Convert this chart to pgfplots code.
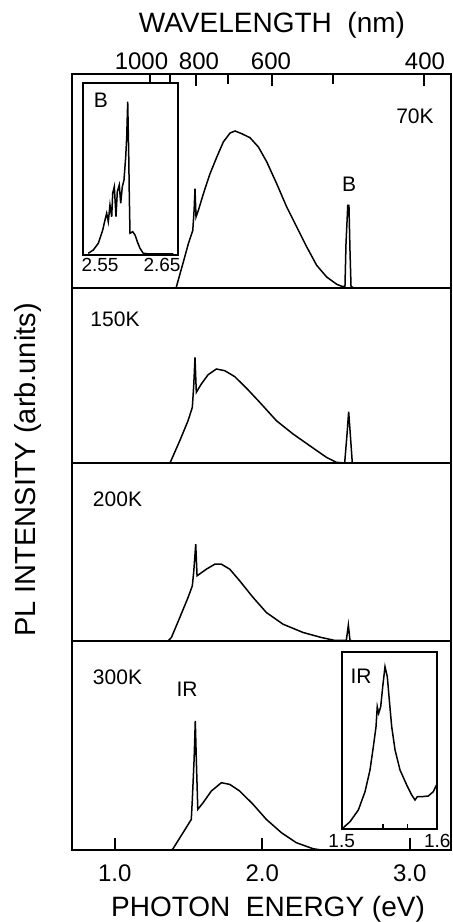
\documentclass[border=0pt]{standalone}
\usepackage{pgfplots}
\pgfplotsset{compat=1.18}
\usepackage{fontspec}
\setmainfont{Liberation Sans}
\newcommand{\tf}{\fontsize{14}{16}\selectfont}
\newcommand{\lf}{\fontsize{10.5}{12}\selectfont}
\newcommand{\kf}{\fontsize{12}{14}\selectfont}
\newcommand{\smf}{\fontsize{9.5}{11}\selectfont}

\tikzset{tk/.style={line width=1pt, black}}
\pgfplotsset{
 panel/.style={
   scale only axis, width=189.5pt, xmin=0.71, xmax=3.28, ymin=0,
   anchor=south west, axis line style={line width=1pt},
   ytick=\empty, xtick=\empty, clip=true,
 },
 inset/.style={
   scale only axis, ymin=0, anchor=south west,
   axis line style={line width=1pt}, ytick=\empty,
   xtick pos=left, xticklabel pos=left,
   xticklabel style={font=\smf, anchor=base},
   axis background/.style={fill=white},
 },
 crv/.style={line width=0.75pt, black, no marks},
}

\begin{document}
\begin{tikzpicture}
\useasboundingbox (0,0) rectangle (226pt,461pt);

% ---------- 300K ----------
\begin{axis}[panel, at={(36pt,36pt)}, height=104.5pt, ymax=209,
  xtick={1,2,3}, xticklabels={1.0,2.0,3.0},
  xtick pos=left, xticklabel pos=left,
  tick style={line width=1pt, black}, major tick length=6pt,
  xticklabel style={font=\kf, anchor=base, yshift=-16pt}]
\addplot[crv] coordinates {(1.385,0) (1.395,1.3) (1.463,17.3) (1.519,30.6) (1.526,50.6) (1.538,90.6) (1.546,129) (1.553,90.6) (1.563,40.6) (1.599,47.3) (1.655,59) (1.723,67.3) (1.780,65.6) (1.847,59) (1.938,45.6) (2.028,30.6) (2.130,17.3) (2.231,7.3) (2.344,1.3) (2.40,0)};
\draw[tk] (axis cs:1,0) -- ++(0pt,6pt);
\draw[tk] (axis cs:2,0) -- ++(0pt,6pt);
\draw[tk] (axis cs:3,0) -- ++(0pt,6pt);
\end{axis}

% ---------- 200K ----------
\begin{axis}[panel, at={(36pt,140.5pt)}, height=88.75pt, ymax=177.5]
\addplot[crv] coordinates {(1.361,0) (1.384,3.5) (1.441,23.5) (1.497,43.5) (1.526,55.2) (1.536,70.2) (1.549,96.8) (1.558,65.2) (1.621,71.8) (1.678,76.8) (1.723,76.8) (1.780,71.8) (1.847,60.2) (1.938,43.5) (2.028,28.5) (2.141,16.8) (2.277,8.5) (2.401,3.5) (2.494,0.5) (2.57,0.5) (2.584,16) (2.595,0.5) (2.62,0)};
\end{axis}

% ---------- 150K ----------
\begin{axis}[panel, at={(36pt,229.25pt)}, height=87.75pt, ymax=175.5]
\addplot[crv] coordinates {(1.373,0) (1.441,22.8) (1.497,42.8) (1.526,56.2) (1.536,79.5) (1.544,106.2) (1.553,71.2) (1.587,79.5) (1.633,88.8) (1.689,94.5) (1.746,92.8) (1.814,86.8) (1.892,75.5) (1.983,61.2) (2.096,42.8) (2.209,29.5) (2.322,17.8) (2.435,6.2) (2.502,1.2) (2.559,0.5) (2.575,29.5) (2.586,51.8) (2.597,29.5) (2.611,0)};
\end{axis}

% ---------- 70K ----------
\begin{axis}[panel, at={(36pt,317pt)}, height=107pt, ymax=214]
\addplot[crv] coordinates {(1.4156,0) (1.465,26) (1.499,44.3) (1.529,57.7) (1.538,77.7) (1.544,99.3) (1.551,71) (1.567,77.7) (1.601,94.3) (1.646,114.3) (1.692,131) (1.736,146) (1.782,155) (1.816,157) (1.861,154.3) (1.917,150.3) (1.974,141) (2.031,126) (2.098,104.3) (2.166,81) (2.234,61) (2.302,41) (2.369,22.7) (2.437,11) (2.505,3.7) (2.539,1.7) (2.561,1.7) (2.568,44.3) (2.580,82.7) (2.588,82.7) (2.595,37.7) (2.602,1.7) (2.62,0)};
% wavelength ticks: 1000,900,800,700,600,500,400 nm
\draw[tk] (axis cs:1.2398,214) -- ++(0pt,-6pt);
\draw[tk] (axis cs:1.3776,214) -- ++(0pt,-5pt);
\draw[tk] (axis cs:1.5498,214) -- ++(0pt,-6pt);
\draw[tk] (axis cs:1.7712,214) -- ++(0pt,-5pt);
\draw[tk] (axis cs:2.0664,214) -- ++(0pt,-6pt);
\draw[tk] (axis cs:2.4797,214) -- ++(0pt,-5pt);
\draw[tk] (axis cs:3.0996,214) -- ++(0pt,-6pt);
\end{axis}

% ---------- inset B ----------
\begin{axis}[inset, at={(41.5pt,333.5pt)}, width=47.5pt, height=86pt,
  xmin=2.5226, xmax=2.6758, ymax=172,
  xtick={2.55,2.65}, xticklabels={2.55,2.65},
  major tick length=0pt, xticklabel style={yshift=-8.5pt}]
\addplot[crv] coordinates {(2.5311,1.7) (2.5392,5) (2.5473,11.7) (2.5544,25) (2.5581,35) (2.5608,41.7) (2.5634,33.3) (2.5661,50) (2.5689,38.3) (2.5705,61.7) (2.5731,68.3) (2.5758,38.3) (2.5779,63.3) (2.5811,70) (2.5834,51.7) (2.5860,68.3) (2.5887,75) (2.5915,98.3) (2.5931,118.3) (2.5947,153.3) (2.5963,101.7) (2.5973,58.3) (2.5984,21.7) (2.6027,23.3) (2.6065,20) (2.6102,13.3) (2.6145,6.7) (2.6198,1.7) (2.6306,1) (2.6682,1)};
\end{axis}

% ---------- inset IR ----------
\begin{axis}[inset, at={(170.85pt,46.35pt)}, width=47.8pt, height=88.5pt,
  xmin=1.5, xmax=1.6, ymax=177,
  xtick={1.5,1.6}, xticklabels={1.5,1.6},
  major tick length=0pt, xticklabel style={yshift=-9pt}]
\addplot[crv] coordinates {(1.5010,1) (1.5087,7.6) (1.5174,19.3) (1.5244,37.6) (1.5296,59.3) (1.5331,82.6) (1.5359,102.6) (1.5372,122.6) (1.5387,116) (1.5408,122.6) (1.5429,142.6) (1.5453,162.6) (1.5477,152.6) (1.5498,129.3) (1.5523,102.6) (1.5558,79.3) (1.5610,59.3) (1.5680,44.3) (1.5732,34.3) (1.5767,29.3) (1.5791,32.6) (1.5837,32.6) (1.5906,33.3) (1.5958,37.6) (1.6000,46)};
\draw[line width=0.8pt] (axis cs:1.543,0) -- ++(0pt,2.5pt);
\draw[line width=0.8pt] (axis cs:1.569,0) -- ++(0pt,2.5pt);
\end{axis}

% ---------- texts ----------
\node[font=\tf, anchor=base] at (136pt,444.5pt) {WAVELENGTH\ \ (nm)};
\node[font=\kf, anchor=base] at (70.75pt,426pt) {1000};
\node[font=\kf, anchor=base] at (99.5pt,426pt) {800};
\node[font=\kf, anchor=base] at (135.5pt,426pt) {600};
\node[font=\kf, anchor=base] at (212.5pt,426pt) {400};
\node[font=\tf, anchor=base] at (134pt,2.5pt) {PHOTON\ \ ENERGY (eV)};
\node[font=\fontsize{14.5}{16}\selectfont, rotate=90] at (14pt,226pt) {PL INTENSITY (arb.units)};

\node[font=\lf, anchor=base] at (207.5pt,399pt) {70K};
\node[font=\lf, anchor=base] at (174.5pt,365pt) {B};
\node[font=\lf, anchor=base] at (57.5pt,297.5pt) {150K};
\node[font=\lf, anchor=base] at (58.75pt,207.5pt) {200K};
\node[font=\lf, anchor=base] at (58.75pt,118.5pt) {300K};
\node[font=\lf, anchor=base] at (93.5pt,112.5pt) {IR};
\node[font=\lf, anchor=base] at (50.5pt,407pt) {B};
\node[font=\lf, anchor=base] at (180.5pt,119pt) {IR};
\end{tikzpicture}
\end{document}
